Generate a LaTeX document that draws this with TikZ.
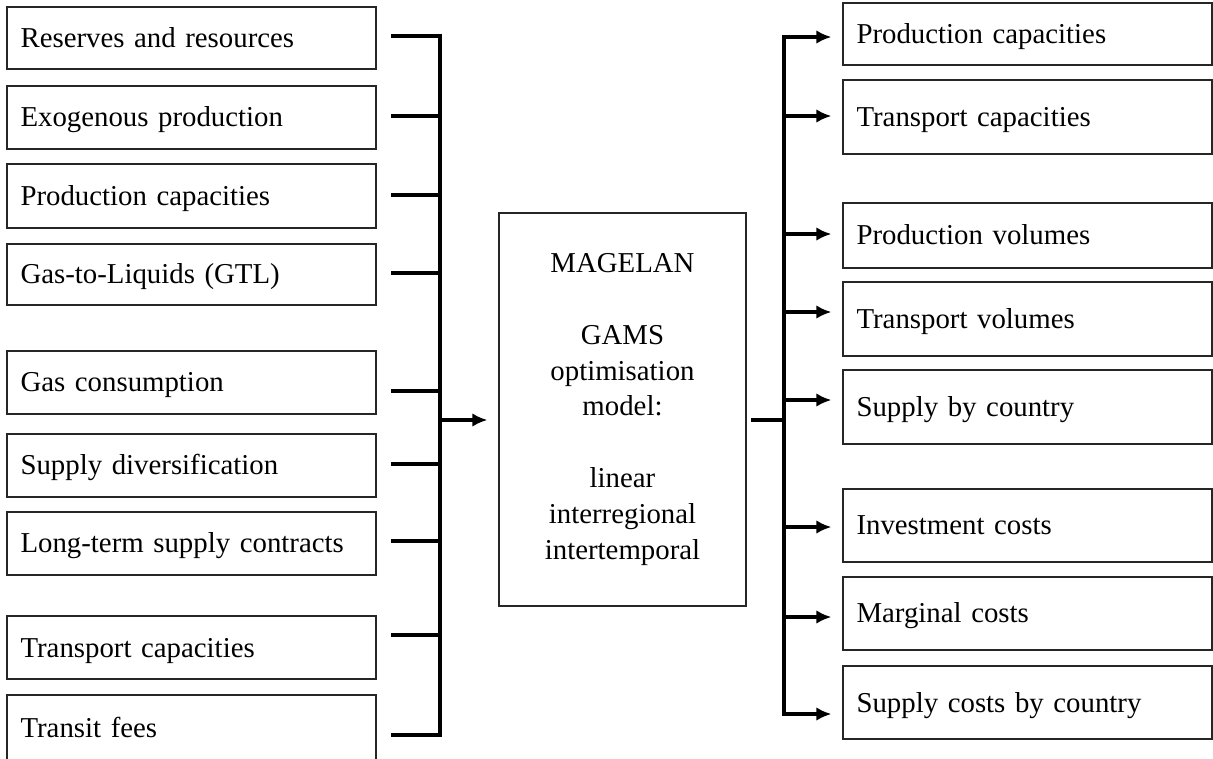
\documentclass[tikz,border=0pt]{standalone}
\usepackage{fontspec}
\setmainfont{Liberation Serif}[WordSpace=1.3]
\usetikzlibrary{arrows.meta,calc}
\tikzstyle{line} = [draw, line width=2pt, line cap=rect]
\tikzstyle{arrowline} = [draw, line width=2pt, -{Latex[length=0.3cm,width=0.27cm]}]
\tikzstyle{block} = [draw=black!85, line width=0.7pt, rectangle, minimum width=7.38cm, text width=6.84cm, inner xsep=0.27cm, inner ysep=0pt, text height=11.5pt, text depth=0.7pt, align=left, font=\fontsize{16.4pt}{19pt}\selectfont]
\tikzstyle{model} = [draw=black!85, line width=0.7pt, rectangle, minimum width=4.94cm, minimum height=7.86cm, align=center, font=\fontsize{16.4pt}{20.4pt}\selectfont]

\begin{document}
\begin{tikzpicture}[x=0.02cm, y=-0.02cm]
        \useasboundingbox (0,0) rectangle (1213,758);
        % inputs
        \node[block, minimum height=1.24cm] (in1) at (191.5,38) {Reserves and resources};
        \node[block, minimum height=1.26cm] (in2) at (191.5,117.5) {Exogenous production};
        \node[block, minimum height=1.28cm] (in3) at (191.5,196) {Production capacities};
        \node[block, minimum height=1.22cm] (in4) at (191.5,274.5) {Gas-to-Liquids (GTL)};
        \node[block, minimum height=1.26cm] (in5) at (191.5,382.5) {Gas consumption};
        \node[block, minimum height=1.26cm] (in6) at (191.5,465.5) {Supply diversification};
        \node[block, minimum height=1.26cm] (in7) at (191.5,543.5) {Long-term supply contracts};
        \node[block, minimum height=1.26cm] (in8) at (191.5,647.5) {Transport capacities};
        \node[block, minimum height=1.30cm] (in9) at (191.5,727.5) {Transit fees};
        % model
        \node[model] (model) at (622.5,409.5) {MAGELAN\\[20.4pt]GAMS\\optimisation\\model:\\[20.4pt]linear\\interregional\\intertemporal};
        % outputs
        \node[block, minimum height=1.24cm] (out1) at (1027.5,34) {Production capacities};
        \node[block, minimum height=1.48cm] (out2) at (1027.5,117) {Transport capacities};
        \node[block, minimum height=1.30cm] (out3) at (1027.5,235.5) {Production volumes};
        \node[block, minimum height=1.48cm] (out4) at (1027.5,319) {Transport volumes};
        \node[block, minimum height=1.48cm] (out5) at (1027.5,407) {Supply by country};
        \node[block, minimum height=1.46cm] (out6) at (1027.5,525.5) {Investment costs};
        \node[block, minimum height=1.46cm] (out7) at (1027.5,613.5) {Marginal costs};
        \node[block, minimum height=1.46cm] (out8) at (1027.5,702.5) {Supply costs by country};
        % bus joints
        \foreach \y [count=\i] in {36,116,195,273,391,464,541,635,735}
            \coordinate (j\i) at (440,\y);
        \foreach \y [count=\i] in {37,116,234,312,400,527,617,714}
            \coordinate (k\i) at (784,\y);
        \coordinate (jm) at (440,420);
        \coordinate (k0) at (784,420);
        % left side
        \foreach \i in {1,...,9}
            \path[line, shorten <=0.32cm] (in\i.east |- j\i) -- (j\i);
        \path[line] (j1) -- (j9);
        \path[arrowline, shorten >=0.22cm] (jm) -- (jm -| model.west);
        % right side
        \path[line, shorten <=0.12cm] (model.east |- k0) -- (k0);
        \path[line] (k1) -- (k8);
        \foreach \i in {1,...,8}
            \path[arrowline, shorten >=0.22cm] (k\i) -- (k\i -| out\i.west);
    \end{tikzpicture}
\end{document}
